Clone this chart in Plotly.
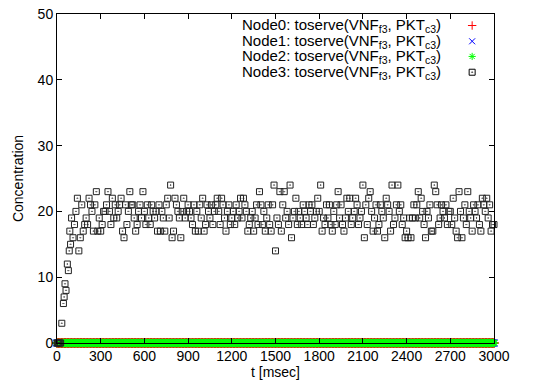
import plotly.graph_objects as go

# ---- data ----
early_t = [0, 5, 10, 15, 20, 25, 33, 44, 49, 55, 62, 71, 78, 84, 88, 93]
early_v = [0, 0, 0, 0, 0, 0, 3, 6, 7, 9, 8, 12, 11, 14, 17, 15]

# Node3 values every 10 msec from t=100 to t=3000 (blocks of 100 msec)
node3_blocks = [
    [19, 16, 18, 20, 22, 14, 16, 21, 17, 18],
    [19, 18, 22, 21, 20, 17, 21, 23, 17, 19],
    [17, 18, 20, 20, 21, 23, 20, 18, 22, 19],
    [21, 19, 20, 21, 22, 17, 16, 21, 18, 20],
    [23, 21, 21, 19, 17, 18, 20, 21, 19, 23],
    [20, 18, 21, 19, 18, 21, 20, 19, 20, 17],
    [21, 17, 20, 19, 17, 21, 22, 19, 24, 16],
    [17, 22, 21, 20, 19, 16, 20, 22, 19, 20],
    [21, 20, 19, 18, 21, 17, 20, 17, 21, 19],
    [22, 17, 18, 21, 20, 19, 21, 18, 20, 21],
    [22, 20, 18, 22, 21, 19, 17, 20, 21, 18],
    [19, 20, 18, 21, 19, 20, 22, 19, 22, 21],
    [20, 17, 18, 19, 20, 17, 19, 21, 18, 23],
    [21, 18, 20, 17, 19, 21, 18, 17, 21, 24],
    [14, 19, 18, 23, 17, 21, 23, 19, 20, 18],
    [24, 16, 19, 20, 22, 18, 20, 19, 18, 21],
    [20, 19, 18, 21, 20, 21, 18, 19, 20, 22],
    [20, 24, 17, 19, 18, 21, 19, 21, 18, 17],
    [20, 18, 21, 23, 19, 21, 18, 17, 19, 22],
    [20, 22, 18, 19, 20, 22, 21, 18, 19, 20],
    [24, 16, 21, 18, 22, 23, 20, 17, 19, 21],
    [17, 18, 21, 20, 19, 16, 22, 21, 20, 17],
    [24, 18, 19, 21, 24, 20, 21, 18, 19, 16],
    [17, 16, 19, 16, 19, 21, 19, 21, 23, 19],
    [22, 20, 18, 16, 20, 19, 21, 17, 17, 24],
    [23, 21, 18, 19, 21, 20, 19, 21, 18, 20],
    [20, 18, 22, 19, 17, 16, 23, 20, 16, 19],
    [21, 18, 23, 20, 19, 17, 21, 20, 19, 21],
    [18, 17, 22, 21, 20, 22, 19, 21, 17, 18],
    [18],
]

x_ticks = [0, 300, 600, 900, 1200, 1500, 1800, 2100, 2400, 2700, 3000]
y_ticks = [0, 10, 20, 30, 40, 50]

legend_labels = [
    "Node0: toserve(VNF<sub>f3</sub>, PKT<sub>c3</sub>)",
    "Node1: toserve(VNF<sub>f3</sub>, PKT<sub>c3</sub>)",
    "Node2: toserve(VNF<sub>f3</sub>, PKT<sub>c3</sub>)",
    "Node3: toserve(VNF<sub>f3</sub>, PKT<sub>c3</sub>)",
]
colors = ["#ff0000", "#0000ff", "#00ff00", "#000000"]
symbols = ["cross-thin-open", "x-thin-open", "asterisk-open", "square-open-dot"]

# ---- build series ----
node3_v = []
for b in node3_blocks:
    node3_v.extend(b)
reg_t = list(range(100, 100 + 10 * len(node3_v), 10))
t3 = early_t + reg_t
v3 = early_v + node3_v

t_zero = list(range(0, 3001, 10))
v_zero = [0] * len(t_zero)

fig = go.Figure()
for i in range(3):
    fig.add_trace(go.Scatter(
        x=t_zero, y=v_zero, mode="markers", cliponaxis=False, showlegend=False,
        hoverinfo="skip",
        marker=dict(symbol=symbols[i], size=7, color=colors[i],
                    line=dict(color=colors[i], width=1.5)),
    ))
fig.add_trace(go.Scatter(
    x=t3, y=v3, mode="markers", cliponaxis=False, showlegend=False,
    marker=dict(symbol=symbols[3], size=6, color="#222222",
                line=dict(color="#222222", width=1)),
))

# manual legend (text left, marker right), on an overlay axis
leg_y = [0.965, 0.917, 0.871, 0.823]
fig.add_trace(go.Scatter(
    x=[0.95] * 4, y=leg_y, xaxis="x2", yaxis="y2", mode="markers",
    showlegend=False, hoverinfo="skip",
    marker=dict(symbol=symbols, size=6, color=colors,
                line=dict(color=colors, width=1)),
))
for lab, yy in zip(legend_labels, leg_y):
    fig.add_annotation(x=0.884, y=yy, xref="x2", yref="y2", text=lab,
                       showarrow=False, xanchor="right", yanchor="middle",
                       font=dict(size=15, color="black"))

axis_font = dict(family="Liberation Sans, Arial, sans-serif", size=14, color="black")
fig.update_layout(
    width=537, height=383,
    margin=dict(l=57, r=43, t=14, b=40),
    paper_bgcolor="white", plot_bgcolor="white",
    font=axis_font,
    xaxis=dict(range=[0, 3000], tickvals=x_ticks, ticks="inside", ticklen=5,
               showgrid=False, zeroline=False, showline=True, linecolor="black",
               linewidth=1, mirror="ticks", tickcolor="black", automargin=False,
               title=dict(text="t [msec]", standoff=0, font=axis_font)),
    yaxis=dict(range=[0, 50], tickvals=y_ticks, ticks="inside", ticklen=5,
               showgrid=False, zeroline=False, showline=True, linecolor="black",
               linewidth=1, mirror="ticks", tickcolor="black", automargin=False,
               title=dict(text="Concentration", standoff=10, font=axis_font)),
    xaxis2=dict(range=[0, 1], overlaying="x", visible=False, automargin=False),
    yaxis2=dict(range=[0, 1], overlaying="y", visible=False, automargin=False),
)

fig.write_html("out.html", config={"displayModeBar": False},
               post_script="document.body.style.margin='0';document.body.style.overflow='hidden';")
